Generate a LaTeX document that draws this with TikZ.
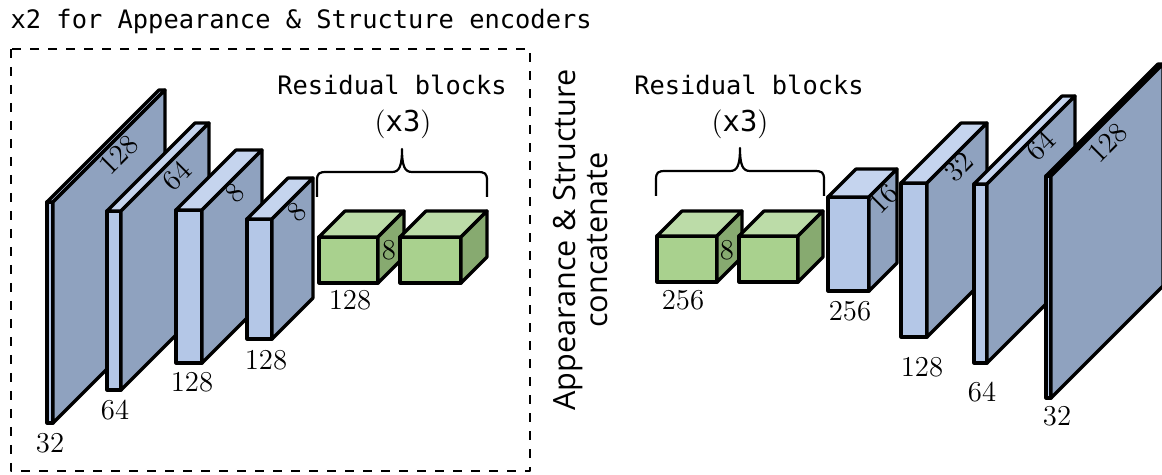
\documentclass[tikz,border=0pt]{standalone}
\usepackage{fontspec}
\newfontfamily\monof{DejaVu Sans Mono}
\newfontfamily\sansf{Open Sans}

\definecolor{bluefront}{HTML}{B4C7E7}
\definecolor{bluetop}{HTML}{C5D4EE}
\definecolor{blueside}{HTML}{8FA2BF}
\definecolor{greenfront}{HTML}{A9D18E}
\definecolor{greentop}{HTML}{BCDCA8}
\definecolor{greenside}{HTML}{87AA70}

% cuboid: left x, right x, top y, bottom y, depth, palette
\newcommand\cuboid[6]{%
  \filldraw[fill=#6front] (#1,#3) rectangle (#2,#4);
  \filldraw[fill=#6top] (#1,#3) -- ++(#5,-#5) -- ++(#2-#1,0) -- (#2,#3) -- cycle;
  \filldraw[fill=#6side] (#2,#3) -- ++(#5,-#5) -- ++(0,#4-#3) -- (#2,#4) -- cycle;
}

% curly brace with square-ish ends: left x, right x, foot y
\newcommand\curlybrace[3]{%
  \draw[bracket] (#1,#3) -- (#1,#3-16)
    .. controls (#1,#3-24) and (#1+2,#3-25) .. (#1+10,#3-25)
    -- ({(#1+#2)/2-10},#3-25)
    .. controls ({(#1+#2)/2-3},#3-25) and ({(#1+#2)/2},#3-30) .. ({(#1+#2)/2},#3-48)
    .. controls ({(#1+#2)/2},#3-30) and ({(#1+#2)/2+3},#3-25) .. ({(#1+#2)/2+10},#3-25)
    -- (#2-10,#3-25)
    .. controls (#2-2,#3-25) and (#2,#3-24) .. (#2,#3-16) -- (#2,#3);
}

\tikzset{
  num/.style={font=\fontsize{14.4}{17}\selectfont, inner sep=0pt},
  dnum/.style={num, rotate=45},
  mono/.style={font=\monof\fontsize{12.7}{15}\selectfont, inner sep=0pt},
  bracket/.style={line width=1.1pt, line join=round},
}

\begin{document}
\begin{tikzpicture}[x=0.5pt, y=-0.5pt, line width=1.6pt, line join=round]
\useasboundingbox (0,0) rectangle (1162,475);

% encoder frame and title
\node[mono, anchor=base west] (title) at (9,29) {x2 for Appearance \& Structure encoders};
\draw[line width=1.4pt, dash pattern=on 4.5pt off 4.5pt] (11,49) rectangle (530,471);

% encoder layers
\cuboid{47}{53}{202}{423}{112}{blue}
\cuboid{107}{121}{211}{390}{88}{blue}
\cuboid{176}{202}{210}{363}{60}{blue}
\cuboid{247}{272}{219}{339}{41}{blue}
\cuboid{319}{378}{237}{283}{26}{green}
\cuboid{400}{461}{237}{283}{26}{green}

\node[dnum] (e1d) at (119,155) {128};
\node[dnum] (e2d) at (177,176) {64};
\node[dnum] (e3d) at (235,193) {8};
\node[dnum] (e4d) at (297,212) {8};
\node[num] (g1d) at (389,250) {8};

\node[num] (e1w) at (50,443) {32};
\node[num] (e2w) at (115,410) {64};
\node[num] (e3w) at (192,382) {128};
\node[num] (e4w) at (266,360) {128};
\node[num] (g1w) at (350,300) {128};

\curlybrace{317}{487}{197}
\node[mono] (res1) at (392,85) {Residual blocks};
\node[num] (rep1) at (403,124) {({\monof x3})};

% concatenation label
\node[font=\sansf\fontsize{15.3}{16}\selectfont, rotate=90, align=center, inner sep=0pt] (cat) at (581,240)
  {Appearance \& Structure\\concatenate};

% decoder layers
\cuboid{657}{717}{236}{282}{25}{green}
\cuboid{739}{798}{236}{282}{25}{green}
\cuboid{828}{869}{197}{291}{28}{blue}
\cuboid{901}{927}{183}{337}{60}{blue}
\cuboid{974}{987}{184}{363}{88}{blue}
\cuboid{1046}{1051}{176}{398}{112}{blue}

\node[num] (g2d) at (727,250) {8};
\node[dnum] (d1d) at (884,199) {16};
\node[dnum] (d2d) at (959,167) {32};
\node[dnum] (d3d) at (1041,146) {64};
\node[dnum] (d4d) at (1108,143) {128};

\node[num] (g2w) at (683,300) {256};
\node[num] (d1w) at (850,311) {256};
\node[num] (d2w) at (922,367) {128};
\node[num] (d3w) at (982,392) {64};
\node[num] (d4w) at (1057,416) {32};

\curlybrace{656}{824}{196}
\node[mono] (res2) at (749,85) {Residual blocks};
\node[num] (rep2) at (740,124) {({\monof x3})};
\end{tikzpicture}
\end{document}
